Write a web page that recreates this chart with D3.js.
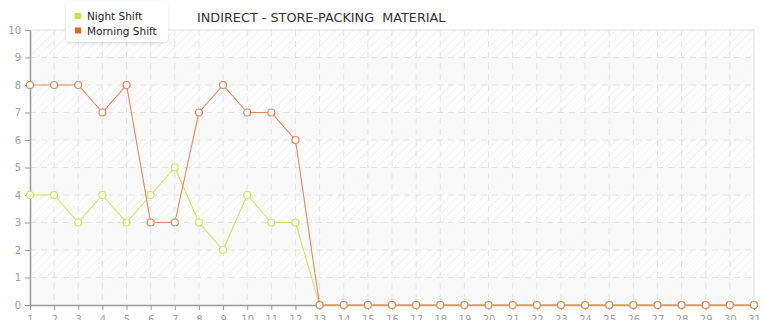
<!DOCTYPE html>
<html>
<head>
<meta charset="utf-8">
<script src="https://cdn.jsdelivr.net/npm/d3@7"></script>
<style>
  body { margin: 0; background: #fff; }
  svg { font-family: "DejaVu Sans", Verdana, sans-serif; }
</style>
</head>
<body>
<svg id="drawing_region"></svg>
<script>
const days = d3.range(1, 32);
const nightShift = [4, 4, 3, 4, 3, 4, 5, 3, 2, 4, 3, 3, 0, 0, 0, 0, 0, 0, 0, 0, 0, 0, 0, 0, 0, 0, 0, 0, 0, 0, 0];
const morningShift = [8, 8, 8, 7, 8, 3, 3, 7, 8, 7, 7, 6, 0, 0, 0, 0, 0, 0, 0, 0, 0, 0, 0, 0, 0, 0, 0, 0, 0, 0, 0];
const yTicks = d3.range(0, 11);
const title = "INDIRECT - STORE-PACKING  MATERIAL";

const series = [
    { name: "Night Shift", values: nightShift, color: "#c6df3a", line: "#cfe35c" },
    { name: "Morning Shift", values: morningShift, color: "#e0652b", line: "#e8845a" }
];

const width = 765, height = 320;
const margin = { top: 30, right: 11, bottom: 15, left: 30 };
const innerW = width - margin.left - margin.right;
const innerH = height - margin.top - margin.bottom;

const svg = d3.select('#drawing_region')
    .attr('width', width)
    .attr('height', height);

const defs = svg.append('defs');
const pat = defs.append('pattern')
    .attr('id', 'hatch')
    .attr('patternUnits', 'userSpaceOnUse')
    .attr('width', 6)
    .attr('height', 6)
    .attr('patternTransform', 'rotate(45)');
pat.append('rect').attr('width', 6).attr('height', 6).attr('fill', '#fdfdfd');
pat.append('line')
    .attr('x1', 0).attr('y1', 0).attr('x2', 0).attr('y2', 6)
    .attr('stroke', '#eeeeee').attr('stroke-width', 1.5);

const chart = svg.append('g')
    .attr('transform', `translate(${margin.left}, ${margin.top})`);

const xscale = d3.scaleLinear().domain([1, 31]).range([0, innerW]);
const yscale = d3.scaleLinear().domain([0, 10]).range([innerH, 0]);

// background
chart.append('rect')
    .attr('width', innerW).attr('height', innerH)
    .attr('fill', 'url(#hatch)');

chart.selectAll('.band')
    .data(yTicks.filter(d => d < 10 && d % 2 === 0))
    .enter().append('rect')
    .attr('class', 'band')
    .attr('x', 0)
    .attr('y', d => yscale(d + 1))
    .attr('width', innerW)
    .attr('height', d => yscale(d) - yscale(d + 1))
    .attr('fill', '#f8f8f8')
    .attr('opacity', 0.85);

// border top/right
chart.append('path')
    .attr('d', `M0,0H${innerW}V${innerH}`)
    .attr('fill', 'none')
    .attr('stroke', '#e2e2e2');

// grid
chart.selectAll('.vgrid')
    .data(days.slice(1, -1))
    .enter().append('line')
    .attr('x1', d => xscale(d)).attr('x2', d => xscale(d))
    .attr('y1', 0).attr('y2', innerH)
    .attr('stroke', '#e3e3e3')
    .attr('stroke-dasharray', '6,5');

chart.selectAll('.hgrid')
    .data(yTicks.slice(1, -1))
    .enter().append('line')
    .attr('x1', 0).attr('x2', innerW)
    .attr('y1', d => yscale(d)).attr('y2', d => yscale(d))
    .attr('stroke', '#e3e3e3')
    .attr('stroke-dasharray', '6,5');

// axes
const xaxis = d3.axisBottom(xscale).tickValues(days).tickFormat(d3.format('d')).tickSize(5).tickSizeOuter(0);
const yaxis = d3.axisLeft(yscale).tickValues(yTicks).tickSize(5).tickSizeOuter(0);

const xg = chart.append('g')
    .attr('transform', `translate(0, ${innerH})`)
    .call(xaxis);
const yg = chart.append('g').call(yaxis);

[xg, yg].forEach(g => {
    g.select('.domain').attr('stroke', '#999').attr('stroke-width', 1.5);
    g.selectAll('.tick line').attr('stroke', '#999');
    g.selectAll('.tick text')
        .attr('fill', '#a0a0a0')
        .attr('font-size', '10px')
        .attr('font-family', '"DejaVu Sans", Verdana, sans-serif');
});
xg.selectAll('.tick text').attr('dy', '0.95em');
yg.selectAll('.tick text').attr('x', -9);

// lines
const line = d3.line()
    .x((d, i) => xscale(days[i]))
    .y(d => yscale(d));

series.forEach(s => {
    chart.append('path')
        .datum(s.values)
        .attr('fill', 'none')
        .attr('stroke', s.line)
        .attr('stroke-width', 1.1)
        .attr('d', line);
});

series.forEach(s => {
    chart.selectAll(null)
        .data(s.values)
        .enter().append('circle')
        .attr('cx', (d, i) => xscale(days[i]))
        .attr('cy', d => yscale(d))
        .attr('r', 3.5)
        .attr('fill', '#fff')
        .attr('stroke', s.line)
        .attr('stroke-width', 1.2);
});

// title
svg.append('text')
    .attr('x', 197)
    .attr('y', 22)
    .attr('font-size', '12.8px')
    .attr('fill', '#333')
    .style('white-space', 'pre')
    .text(title);

// legend
const shadow = defs.append('filter').attr('id', 'shadow')
    .attr('x', '-20%').attr('y', '-20%').attr('width', '140%').attr('height', '160%');
shadow.append('feDropShadow')
    .attr('dx', 0).attr('dy', 1).attr('stdDeviation', 1.5)
    .attr('flood-color', '#000').attr('flood-opacity', 0.15);

const legend = svg.append('g').attr('transform', 'translate(66, 1)');
legend.append('rect')
    .attr('width', 102).attr('height', 41)
    .attr('rx', 5)
    .attr('fill', '#fff')
    .attr('filter', 'url(#shadow)');

const item = legend.selectAll('.item')
    .data(series)
    .enter().append('g')
    .attr('transform', (d, i) => `translate(9, ${16 + i * 14.5})`);
item.append('rect')
    .attr('x', 0).attr('y', -4)
    .attr('width', 6).attr('height', 6)
    .attr('fill', d => d.color);
item.append('text')
    .attr('x', 12).attr('y', 0)
    .attr('dy', '0.3em')
    .attr('font-size', '10.5px')
    .attr('fill', '#222')
    .text(d => d.name);
</script>
</body>
</html>
